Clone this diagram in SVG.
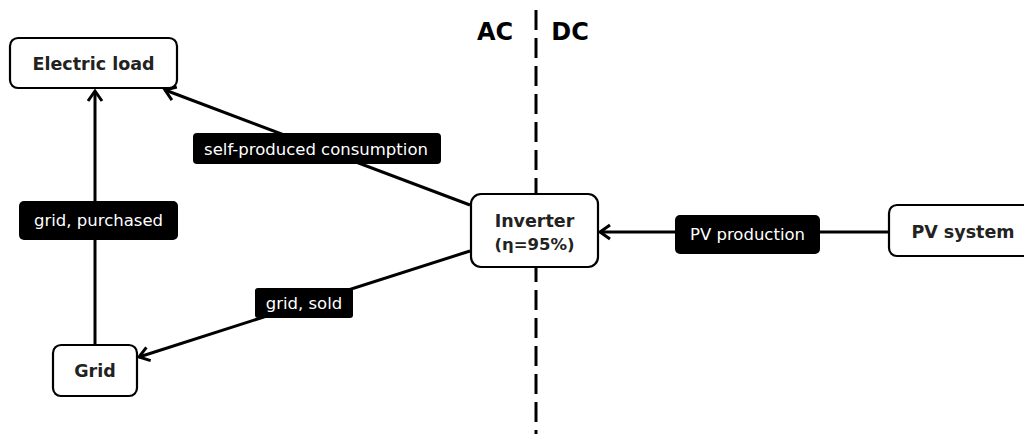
<svg xmlns="http://www.w3.org/2000/svg" width="1024" height="434" viewBox="0 0 1024 434">
<style>
.node{fill:#fff;stroke:#000;stroke-width:2.2}
.nt{font-family:"DejaVu Sans",Verdana,sans-serif;font-weight:bold;font-size:17.5px;fill:#222;text-anchor:middle}
.edge{stroke:#000;stroke-width:3;fill:none}
.lb{fill:#000}
.lt{font-family:"DejaVu Sans",Verdana,sans-serif;font-size:16.5px;fill:#fff;text-anchor:middle}
.hd{font-family:"DejaVu Sans",Verdana,sans-serif;font-weight:bold;font-size:24px;fill:#000;text-anchor:middle}
</style>
<defs>
<marker id="arr" markerUnits="userSpaceOnUse" markerWidth="20" markerHeight="20" refX="0" refY="0" viewBox="-12 -10 14 20" orient="auto">
<path d="M-10,-7 L0,0 L-10,7" fill="none" stroke="#000" stroke-width="3"/>
</marker>
</defs>
<rect width="1024" height="434" fill="#fff"/>
<g id="divider">
<line x1="536" y1="10" x2="536" y2="434" stroke="#000" stroke-width="3" stroke-dasharray="20 8"/>
<text class="hd" x="495" y="40">AC</text>
<text class="hd" x="570" y="40">DC</text>
</g>
<g id="connectors">
<line class="edge" x1="470" y1="205" x2="165" y2="90" marker-end="url(#arr)"/>
<line class="edge" x1="95" y1="345" x2="95" y2="91" marker-end="url(#arr)"/>
<line class="edge" x1="470" y1="251" x2="139" y2="357" marker-end="url(#arr)"/>
<line class="edge" x1="889" y1="232" x2="600" y2="232" marker-end="url(#arr)"/>
<g id="label-self">
<rect class="lb" x="193" y="133" width="248" height="31" rx="4"/>
<text class="lt" x="316" y="154.5">self-produced consumption</text>
</g>
<g id="label-purchased">
<rect class="lb" x="19" y="201" width="159" height="39" rx="5"/>
<text class="lt" x="98.5" y="226">grid, purchased</text>
</g>
<g id="label-sold">
<rect class="lb" x="255" y="288" width="98" height="30" rx="3"/>
<text class="lt" x="304" y="308.5">grid, sold</text>
</g>
<g id="label-pv">
<rect class="lb" x="675" y="215" width="145" height="39" rx="5"/>
<text class="lt" x="747.5" y="240">PV production</text>
</g>
</g>
<g id="electric-load">
<rect class="node" x="10" y="38" width="167" height="50" rx="8"/>
<text class="nt" x="93.5" y="69.5">Electric load</text>
</g>
<g id="grid">
<rect class="node" x="53" y="345" width="84" height="51" rx="8"/>
<text class="nt" x="95" y="377">Grid</text>
</g>
<g id="inverter">
<rect class="node" x="471" y="194" width="127" height="73" rx="10"/>
<text class="nt" x="534.5" y="227">Inverter</text>
<text class="nt" x="534.5" y="249.5" style="font-size:16.5px">(η=95%)</text>
</g>
<g id="pv-system">
<rect class="node" x="889" y="205" width="148" height="51" rx="8"/>
<text class="nt" x="963" y="237.5">PV system</text>
</g>
</svg>
